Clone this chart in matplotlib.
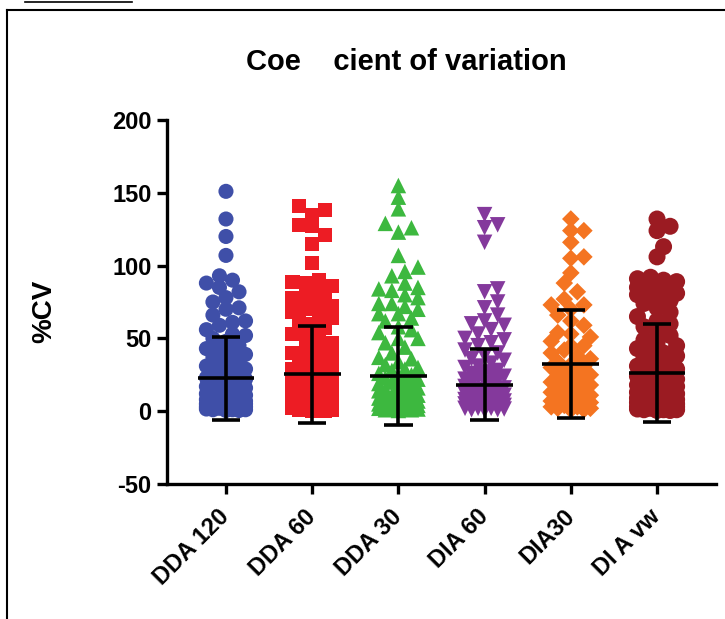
import numpy as np
import matplotlib
matplotlib.use("Agg")
import matplotlib.pyplot as plt
from matplotlib.lines import Line2D

plt.rcParams['font.family'] = ['Liberation Sans', 'DejaVu Sans']
plt.rcParams['font.weight'] = 'bold'

categories = ["DDA 120", "DDA 60", "DDA 30", "DIA 60", "DIA30", "DI A vw"]
colors = ["#3F4FA8", "#ED1C24", "#3DB83F", "#84399C", "#F47421", "#9B1B22"]
markers = ["o", "s", "^", "v", "D", "o"]
marker_sizes = [118, 105, 125, 125, 80, 150]

dda120 = [151, 132, 120, 107, 93, 90, 88, 85, 82, 78, 75, 71, 70, 66, 62, 61, 59, 56, 53, 52,
          50, 48, 45, 43, 43, 41, 39, 37, 35, 34, 33, 31, 30, 29, 28, 27, 26, 25, 24, 23,
          22, 21, 20, 20, 19, 18, 17, 16, 16, 15, 14, 14, 13, 12, 12, 11, 10, 10, 9, 9,
          8, 8, 7, 7, 7, 6, 6, 6, 5, 5, 5, 4, 4, 4, 4, 3, 3, 3, 3, 2, 2, 2, 2, 1.5, 1, 1, 1, 0.5, 0.5]
dda60 = [141, 138, 135, 128, 127, 121, 115, 102, 90, 89, 88, 86, 83, 80, 78, 76, 75, 73, 72, 72,
         70, 68, 67, 64, 62, 60, 57, 53, 53, 50, 47, 44, 42, 40, 38, 36, 34, 32, 30, 30,
         29, 28, 27, 26, 25, 24, 23, 22, 21, 20, 19, 18, 18, 17, 16, 15, 15, 14, 13, 13,
         12, 11, 11, 10, 10, 9, 9, 8, 8, 7, 7, 6, 6, 6, 5, 5, 5, 4, 4, 4, 3, 3, 3, 2, 2, 2,
         1.5, 1, 1, 0.5, 0.5]
dda30 = [155, 147, 139, 129, 126, 123, 107, 99, 96, 93, 88, 85, 84, 83, 80, 78, 74, 74, 72, 70,
         67, 67, 64, 62, 58, 56, 54, 50, 50, 47, 44, 40, 37, 36, 34, 32, 30, 29, 28, 26,
         25, 24, 23, 22, 21, 20, 19, 18, 17, 16, 15, 14, 14, 13, 12, 11, 11, 10, 9, 9,
         8, 8, 7, 7, 6, 6, 5, 5, 5, 4, 4, 4, 3, 3, 3, 2, 2, 2, 1.5, 1, 1, 0.5]
dia60 = [135, 128, 126, 116, 84, 82, 75, 71, 66, 62, 60, 59, 56, 53, 50, 49, 47, 45, 42, 40,
         38, 36, 35, 33, 31, 30, 28, 27, 26, 25, 24, 23, 22, 21, 20, 19, 18, 17, 16, 15,
         15, 14, 13, 13, 12, 11, 11, 10, 10, 9, 9, 8, 8, 7, 7, 7, 6, 6, 5, 5, 5, 4, 4, 4,
         3, 3, 3, 2, 2, 2, 1.5, 1, 1, 0.5]
dia30 = [132, 124, 124, 116, 106, 105, 95, 88, 82, 77, 73, 73, 70, 66, 62, 59, 54, 53, 51, 48,
         45, 45, 42, 40, 38, 36, 34, 32, 31, 30, 28, 27, 25, 24, 23, 22, 21, 20, 19, 18,
         17, 16, 15, 14, 13, 12, 11, 10, 9, 8, 8, 7, 6, 6, 5, 5, 4, 4, 3, 3, 2, 2, 1, 1]
diavw = [132, 127, 124, 113, 106, 92, 91, 90, 89, 88, 87, 86, 85, 84, 83, 81, 80, 78, 76, 74,
         71, 68, 65, 62, 60, 58, 55, 52, 49, 47, 45, 43, 41, 40, 38, 36, 35, 33, 32, 31,
         30, 29, 28, 27, 26, 25, 24, 23, 22, 21, 20, 19, 18, 17, 17, 16, 15, 14, 14, 13,
         12, 12, 11, 11, 10, 10, 9, 9, 8, 8, 7, 7, 7, 6, 6, 6, 5, 5, 5, 4, 4, 4, 3, 3, 3, 3,
         2, 2, 2, 2, 1.5, 1, 1, 1, 0.5, 0.5]
series = [dda120, dda60, dda30, dia60, dia30, diavw]

mean_vals = [22.5, 25.4, 24.3, 18.3, 32.3, 26.3]
sd_vals = [28.8, 33.4, 33.5, 24.2, 37.0, 33.8]

yticks = [-50, 0, 50, 100, 150, 200]

W, H, DPI = 725, 619, 100
fig = plt.figure(figsize=(W / DPI, H / DPI), dpi=DPI)
AX_L, AX_R, AX_T, AX_B = 167, 716, 120, 484
ax = fig.add_axes([AX_L / W, 1 - AX_B / H, (AX_R - AX_L) / W, (AX_B - AX_T) / H])
xlim = (-0.684, 5.684)
ylim = (-50, 200)
ax.set_xlim(*xlim)
ax.set_ylim(*ylim)

px_per_x = (AX_R - AX_L) / (xlim[1] - xlim[0])
px_per_y = (AX_B - AX_T) / (ylim[1] - ylim[0])


def swarm(vals, diam, max_px):
    order = np.argsort(vals)
    placed = []
    offs = np.zeros(len(vals))
    step = diam * 0.45
    cands = [0.0]
    k = 1
    while k * step <= max_px:
        cands += [k * step, -k * step]
        k += 1
    for i in order:
        y = vals[i] * px_per_y
        best, bestd = 0.0, -1
        chosen = None
        for c in cands:
            md = 1e9
            for (px, py) in placed:
                if abs(py - y) < diam:
                    d = np.hypot(px - c, py - y)
                    md = min(md, d)
            if md >= diam * 0.8:
                chosen = c
                break
            if md > bestd:
                bestd, best = md, c
        if chosen is None:
            chosen = best
        placed.append((chosen, y))
        offs[i] = chosen / px_per_x
    return offs


for i, vals in enumerate(series):
    vals = np.array(vals, dtype=float)
    offs = swarm(vals, 14.5, 23.0)
    ax.scatter(i + offs, vals, s=marker_sizes[i], marker=markers[i], color=colors[i],
               edgecolors='none', zorder=2, clip_on=False)

lw_err = 2.6
for i in range(len(categories)):
    m, s = mean_vals[i], sd_vals[i]
    ax.plot([i, i], [m - s, m + s], color='black', lw=lw_err, zorder=3, solid_capstyle='butt')
    ax.plot([i - 0.33, i + 0.33], [m, m], color='black', lw=lw_err, zorder=3, solid_capstyle='butt')
    for yy in (m - s, m + s):
        ax.plot([i - 0.165, i + 0.165], [yy, yy], color='black', lw=lw_err, zorder=3,
                solid_capstyle='butt')

for sp in ['top', 'right']:
    ax.spines[sp].set_visible(False)
for sp in ['left', 'bottom']:
    ax.spines[sp].set_linewidth(2.4)
ax.set_yticks(yticks)
ax.set_yticklabels([str(v) for v in yticks], fontsize=17, fontweight='bold')
ax.set_xticks(range(len(categories)))
ax.set_xticklabels(categories, fontsize=17, fontweight='bold', rotation=45,
                   ha='right', va='center', rotation_mode='anchor')
ax.tick_params(axis='both', direction='out', length=7, width=2.4)
ax.tick_params(axis='x', pad=14)
ax.tick_params(axis='y', pad=4)

ax.set_ylabel("%CV", fontsize=20, fontweight='bold',
              family=['Liberation Sans Narrow', 'Liberation Sans', 'DejaVu Sans'])
ax.yaxis.set_label_coords((57 - AX_L) / (AX_R - AX_L), (AX_B - 311) / (AX_B - AX_T))
fig.text((243 + 570) / 2 / W, 1 - 62 / H, "Coe    cient of variation", fontsize=21,
         fontweight='bold', ha='center', va='center')

# page frame
fig.add_artist(Line2D([7 / W, 7 / W], [0, 1 - 10 / H], color='black', lw=1.5))
fig.add_artist(Line2D([7 / W, 1], [1 - 10 / H, 1 - 10 / H], color='black', lw=1.5))
fig.add_artist(Line2D([25 / W, 132 / W], [1 - 2 / H, 1 - 2 / H], color='black', lw=1.2))

fig.savefig("out.png", dpi=DPI)
